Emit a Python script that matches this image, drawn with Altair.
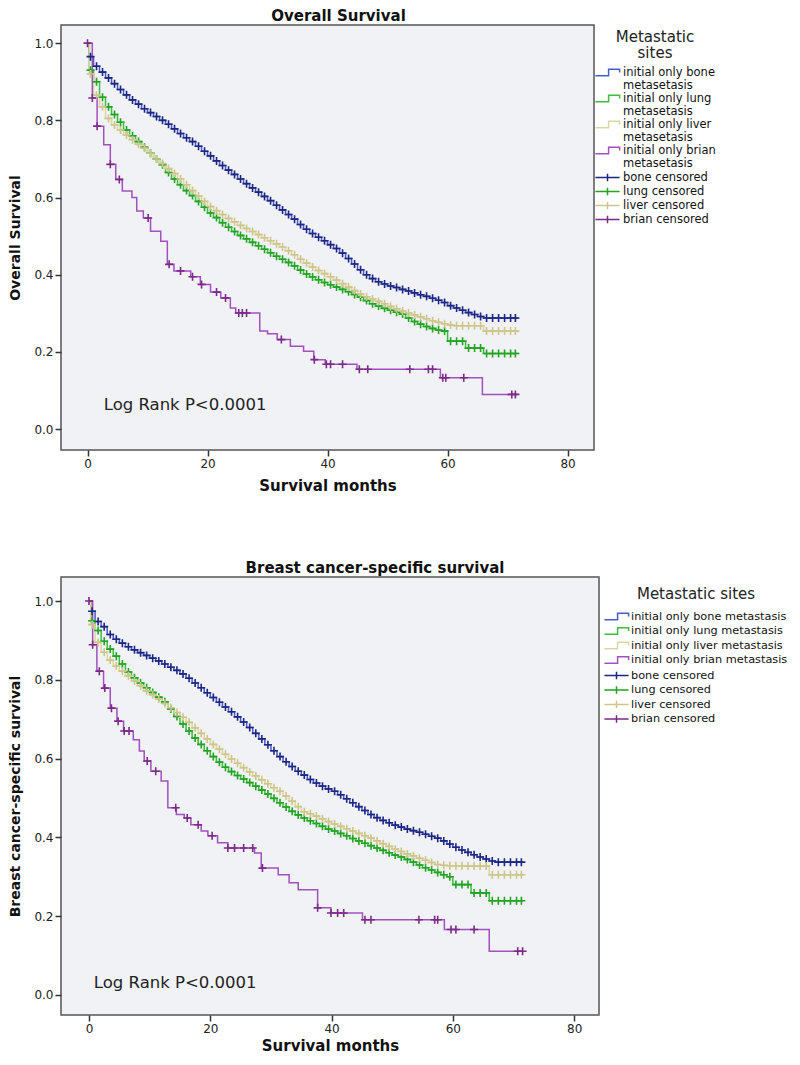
import altair as alt
import pandas as pd

FONT = "DejaVu Sans"

# ---------------- data: Overall survival ----------------
DENSE_T = [0, 0.3] + list(range(1, 72))
OS_END = 71.8
BCSS_END = 71.6

OS_BONE = [1.0, 0.965,
           0.94, 0.925, 0.91, 0.895, 0.88, 0.866, 0.853, 0.842, 0.83, 0.82,
           0.81, 0.8, 0.79, 0.778, 0.766, 0.755, 0.745, 0.733, 0.72, 0.708,
           0.695, 0.683, 0.671, 0.66, 0.648, 0.636, 0.625, 0.614, 0.603, 0.592,
           0.58, 0.568, 0.556, 0.544, 0.53, 0.518, 0.507, 0.497, 0.488, 0.478,
           0.468, 0.456, 0.442, 0.428, 0.413, 0.4, 0.39, 0.382, 0.376, 0.371,
           0.367, 0.362, 0.358, 0.353, 0.348, 0.344, 0.339, 0.334, 0.328, 0.32,
           0.314, 0.308, 0.302, 0.297, 0.292, 0.288, 0.288, 0.288, 0.288, 0.288,
           0.288]
OS_LUNG = [1.0, 0.93,
           0.90, 0.86, 0.835, 0.815, 0.795, 0.775, 0.76, 0.745, 0.73, 0.715,
           0.70, 0.685, 0.665, 0.648, 0.633, 0.618, 0.605, 0.59, 0.575, 0.56,
           0.548, 0.535, 0.523, 0.512, 0.502, 0.493, 0.484, 0.475, 0.466, 0.457,
           0.448, 0.44, 0.432, 0.423, 0.412, 0.402, 0.394, 0.387, 0.38, 0.374,
           0.368, 0.362, 0.356, 0.349, 0.342, 0.333, 0.325, 0.319, 0.313, 0.308,
           0.303, 0.298, 0.288, 0.279, 0.272, 0.266, 0.261, 0.257, 0.254, 0.228,
           0.228, 0.228, 0.21, 0.21, 0.21, 0.196, 0.196, 0.196, 0.196, 0.196,
           0.196]
OS_LIVER = [1.0, 0.92,
            0.865, 0.835, 0.805, 0.788, 0.775, 0.762, 0.75, 0.738, 0.728, 0.715,
            0.70, 0.688, 0.675, 0.662, 0.648, 0.633, 0.618, 0.604, 0.59, 0.577,
            0.566, 0.556, 0.546, 0.537, 0.528, 0.52, 0.512, 0.504, 0.496, 0.488,
            0.48, 0.472, 0.462, 0.452, 0.44, 0.43, 0.42, 0.411, 0.403, 0.395,
            0.386, 0.377, 0.368, 0.359, 0.35, 0.343, 0.337, 0.331, 0.325, 0.318,
            0.312, 0.306, 0.301, 0.296, 0.291, 0.286, 0.281, 0.277, 0.273, 0.27,
            0.268, 0.268, 0.268, 0.268, 0.268, 0.254, 0.254, 0.254, 0.254, 0.254,
            0.254]
OS_BRIAN_T = [0, 0.8, 1.6, 2.7, 3.8, 4.7, 5.8, 7.4, 8.2, 9.3, 10.5, 12.2, 13.3,
              14.4, 17.2, 18.8, 20.5, 22.2, 23.8, 24.7, 28.7, 30.0, 31.6, 33.8,
              36.0, 37.7, 39.6, 44.9, 58.8, 65.8]
OS_BRIAN_S = [1.0, 0.858, 0.785, 0.737, 0.686, 0.647, 0.617, 0.60, 0.565, 0.547,
              0.513, 0.487, 0.427, 0.41, 0.395, 0.375, 0.355, 0.34, 0.314, 0.301,
              0.254, 0.247, 0.232, 0.215, 0.202, 0.18, 0.168, 0.155, 0.133, 0.09]
OS_BRIAN_CENS = [0, 0.8, 1.6, 3.8, 5.3, 10.1, 13.6, 15.5, 17.5, 19.0, 21.5, 23.0,
                 25.2, 25.8, 26.5, 32.3, 37.8, 39.8, 40.5, 42.5, 45.3, 46.7, 53.7,
                 56.8, 57.5, 59.2, 59.7, 62.7, 70.7, 71.3]

# ---------------- data: Breast cancer-specific survival ----------------
BCSS_BONE = [1.0, 0.974,
             0.948, 0.935, 0.915, 0.903, 0.893, 0.884, 0.876, 0.869, 0.862, 0.855,
             0.848, 0.84, 0.832, 0.824, 0.815, 0.804, 0.792, 0.78, 0.767, 0.755,
             0.743, 0.731, 0.719, 0.706, 0.693, 0.679, 0.664, 0.65, 0.635, 0.62,
             0.605, 0.592, 0.58, 0.568, 0.558, 0.547, 0.538, 0.53, 0.523, 0.517,
             0.508, 0.498, 0.488, 0.478, 0.468, 0.458, 0.45, 0.443, 0.437, 0.431,
             0.426, 0.421, 0.417, 0.413, 0.408, 0.403, 0.398, 0.391, 0.383, 0.375,
             0.368, 0.362, 0.356, 0.35, 0.345, 0.34, 0.337, 0.337, 0.337, 0.337,
             0.337]
BCSS_LUNG = [1.0, 0.95,
             0.925, 0.898, 0.878, 0.86, 0.84, 0.82, 0.805, 0.792, 0.78, 0.768,
             0.756, 0.744, 0.726, 0.707, 0.688, 0.67, 0.652, 0.636, 0.62, 0.605,
             0.591, 0.578, 0.567, 0.557, 0.548, 0.539, 0.53, 0.52, 0.51, 0.499,
             0.488, 0.477, 0.466, 0.457, 0.449, 0.442, 0.435, 0.428, 0.421, 0.416,
             0.41, 0.404, 0.397, 0.391, 0.385, 0.379, 0.373, 0.367, 0.361, 0.355,
             0.35, 0.344, 0.337, 0.33, 0.323, 0.317, 0.311, 0.305, 0.3, 0.28,
             0.28, 0.28, 0.259, 0.259, 0.259, 0.239, 0.239, 0.239, 0.239, 0.239,
             0.239]
BCSS_LIVER = [1.0, 0.94,
              0.895, 0.87, 0.85, 0.835, 0.822, 0.81, 0.797, 0.785, 0.772, 0.762,
              0.751, 0.74, 0.729, 0.717, 0.705, 0.692, 0.678, 0.664, 0.65, 0.636,
              0.624, 0.611, 0.599, 0.588, 0.577, 0.566, 0.556, 0.546, 0.536, 0.526,
              0.517, 0.505, 0.492, 0.478, 0.465, 0.46, 0.454, 0.447, 0.44, 0.434,
              0.428, 0.422, 0.416, 0.41, 0.404, 0.398, 0.391, 0.384, 0.377, 0.37,
              0.364, 0.358, 0.353, 0.347, 0.342, 0.336, 0.331, 0.329, 0.328, 0.328,
              0.328, 0.327, 0.327, 0.327, 0.327, 0.305, 0.305, 0.305, 0.305, 0.305,
              0.305]
BCSS_BRIAN_T = [0, 0.6, 1.3, 2.4, 3.5, 4.6, 5.7, 7.3, 8.3, 9.1, 10.2, 11.9, 13.0,
                14.4, 15.7, 16.8, 18.5, 19.6, 21.2, 22.9, 27.3, 28.4, 31.2, 33.0,
                34.5, 37.7, 39.9, 45.1, 58.6, 66.0]
BCSS_BRIAN_S = [1.0, 0.889, 0.822, 0.779, 0.728, 0.695, 0.67, 0.648, 0.619, 0.594,
                0.568, 0.543, 0.475, 0.458, 0.449, 0.432, 0.416, 0.404, 0.386,
                0.373, 0.36, 0.322, 0.305, 0.285, 0.267, 0.221, 0.208, 0.191,
                0.166, 0.111]
BCSS_BRIAN_CENS = [0, 0.6, 1.7, 2.6, 3.7, 4.8, 5.8, 6.6, 9.6, 11.0, 14.3, 16.2,
                   18.0, 20.3, 22.9, 24.0, 25.5, 27.0, 28.6, 37.7, 39.9, 41.0,
                   42.0, 45.5, 46.5, 54.4, 57.0, 57.5, 59.7, 60.5, 63.5, 70.7, 71.5]

DENSE_CENS = [k + 0.5 for k in range(71)] + [71.3]

OS_CURVE_LABELS = ["initial only bone metasetasis", "initial only lung metasetasis",
                   "initial only liver metasetasis", "initial only brian metasetasis"]
BCSS_CURVE_LABELS = ["initial only bone metastasis", "initial only lung metastasis",
                     "initial only liver metastasis", "initial only brian metastasis"]
CENS_LABELS = ["bone censored", "lung censored", "liver censored", "brian censored"]
CURVE_COLORS = ["#4a5cc6", "#3dbd3d", "#dcd7a2", "#a150bd"]
CENS_COLORS = ["#1d2680", "#23a323", "#cdc58a", "#7b2a85"]

X_TICKS = [0, 20, 40, 60, 80]
Y_TICKS = [0.0, 0.2, 0.4, 0.6, 0.8, 1.0]

CROSS = "M-1,0H1M0,-1V1"
LEG_STEP = "M-2.2,0.6H0.2V-0.6H2.2V0"
LEG_CROSS = "M-2.2,0H2.2M0,-0.7V0.7"


def step_at(ts, ss, t):
    v = ss[0]
    for ti, si in zip(ts, ss):
        if ti <= t:
            v = si
    return v


def build(curve_labels, curves, end):
    line_rows, cens_rows = [], []
    for i, (ts, ss, cens) in enumerate(curves):
        for t, s in zip(ts, ss):
            line_rows.append({"series": curve_labels[i], "t": t, "s": s})
        line_rows.append({"series": curve_labels[i], "t": end, "s": ss[-1]})
        for c in cens:
            cens_rows.append({"cens": CENS_LABELS[i], "t": c, "s": step_at(ts, ss, c)})
    return pd.DataFrame(line_rows), pd.DataFrame(cens_rows)


def panel(title, dx, ytitle, curve_labels, curves, end, width, height, xdom, ydom,
          leg_title, two_line, leg, xtitle_pad, annot):
    lines_df, cens_df = build(curve_labels, curves, end)
    x = alt.X("t:Q", scale=alt.Scale(domain=xdom, nice=False, zero=False),
              axis=alt.Axis(values=X_TICKS, title="Survival months", grid=False,
                            domain=False, tickSize=6, tickWidth=1.5, tickColor="#333",
                            labelFont=FONT, labelFontSize=12, labelColor="#222",
                            labelPadding=2, titleFont=FONT, titleFontSize=15,
                            titleFontWeight="bold", titleColor="#111",
                            titlePadding=xtitle_pad))
    y = alt.Y("s:Q", scale=alt.Scale(domain=ydom, nice=False, zero=False),
              axis=alt.Axis(values=Y_TICKS, format=".1f", title=ytitle, grid=False,
                            domain=False, tickSize=6, tickWidth=1.5, tickColor="#333",
                            labelFont=FONT, labelFontSize=12, labelColor="#222",
                            labelPadding=2, titleFont=FONT, titleFontSize=14,
                            titleFontWeight="bold", titleColor="#111", titlePadding=11))
    if two_line:
        lexpr = ("[slice(datum.label,0,lastindexof(datum.label,' ')), "
                 "slice(datum.label,lastindexof(datum.label,' ')+1)]")
    else:
        lexpr = "datum.label"
    common = dict(
        orient="none", padding=0,
        titleFont=FONT, titleFontSize=15, titleFontWeight="normal", titleColor="#222",
        titleAnchor="middle", titleLineHeight=16, titlePadding=leg["title_pad"],
        labelFont=FONT, labelFontSize=leg["label_size"], labelColor="#111", labelLimit=400,
        labelOffset=leg["label_offset"], labelBaseline="middle", symbolSize=121,
        symbolOffset=leg["symbol_offset"], symbolStrokeWidth=1.5,
        symbolFillColor="transparent",
    )
    curve_legend = alt.Legend(title=leg_title, symbolType=LEG_STEP, labelExpr=lexpr,
                              legendX=leg["x"], legendY=leg["y"],
                              rowPadding=leg["row_pad"], **common)
    cens_legend = alt.Legend(title=None, symbolType=LEG_CROSS, legendX=leg["x"],
                             legendY=leg["cens_y"], rowPadding=leg["cens_row_pad"],
                             **common)
    lines = alt.Chart(lines_df).mark_line(interpolate="step-after", strokeWidth=1.5).encode(
        x=x, y=y,
        stroke=alt.Stroke("series:N", scale=alt.Scale(domain=curve_labels, range=CURVE_COLORS),
                          legend=curve_legend))
    points = alt.Chart(cens_df).mark_point(shape=CROSS, filled=False, size=64,
                                           strokeWidth=1.6, opacity=1).encode(
        x=x, y=y,
        color=alt.Color("cens:N", scale=alt.Scale(domain=CENS_LABELS, range=CENS_COLORS),
                        legend=cens_legend))
    ann_df = pd.DataFrame({"t": [annot[0]], "s": [annot[1]], "label": ["Log Rank P<0.0001"]})
    text = alt.Chart(ann_df).mark_text(align="left", baseline="middle", font=FONT,
                                       fontSize=16.5, color="#222").encode(
        x=x, y=y, text="label:N")
    return alt.layer(lines, points, text).properties(
        width=width, height=height,
        title=alt.Title(title, font=FONT, fontSize=15, fontWeight="bold", color="#111",
                        anchor="middle", frame="group", dx=dx, offset=1),
    )


top = panel("Overall  Survival", 11, "Overall Survival", OS_CURVE_LABELS,
            [(DENSE_T, OS_BONE, DENSE_CENS), (DENSE_T, OS_LUNG, DENSE_CENS),
             (DENSE_T, OS_LIVER, DENSE_CENS), (OS_BRIAN_T, OS_BRIAN_S, OS_BRIAN_CENS)],
            OS_END, 533, 425, [-4.42, 84.4], [-0.054, 1.047],
            ["Metastatic", "sites"], True,
            dict(x=533, y=5, cens_y=146, row_pad=0, cens_row_pad=-1.5, title_pad=5,
                 label_size=11.5, label_offset=9, symbol_offset=7),
            9, (2.7, 0.062))

bottom = panel("Breast cancer-specific survival", 45, "Breast cancer-specific survival",
               BCSS_CURVE_LABELS,
               [(DENSE_T, BCSS_BONE, DENSE_CENS), (DENSE_T, BCSS_LUNG, DENSE_CENS),
                (DENSE_T, BCSS_LIVER, DENSE_CENS), (BCSS_BRIAN_T, BCSS_BRIAN_S, BCSS_BRIAN_CENS)],
               BCSS_END, 538, 438, [-4.62, 84.1], [-0.051, 1.061],
               "Metastatic sites", False,
               dict(x=543, y=10, cens_y=92, row_pad=1.5, cens_row_pad=-0.5, title_pad=8,
                    label_size=11.3, label_offset=8, symbol_offset=6),
               4, (0.8, 0.03))

chart = alt.vconcat(top, bottom, spacing=66).resolve_scale(
    color="independent", stroke="independent",
    x="independent", y="independent"
).properties(
    padding={"left": 0, "top": 0, "right": 0, "bottom": 0}, background="white"
).configure_view(stroke="#555", strokeWidth=1.5, fill="#f1f2f6")

chart.save("out.html", embed_options={"renderer": "svg", "actions": False})
